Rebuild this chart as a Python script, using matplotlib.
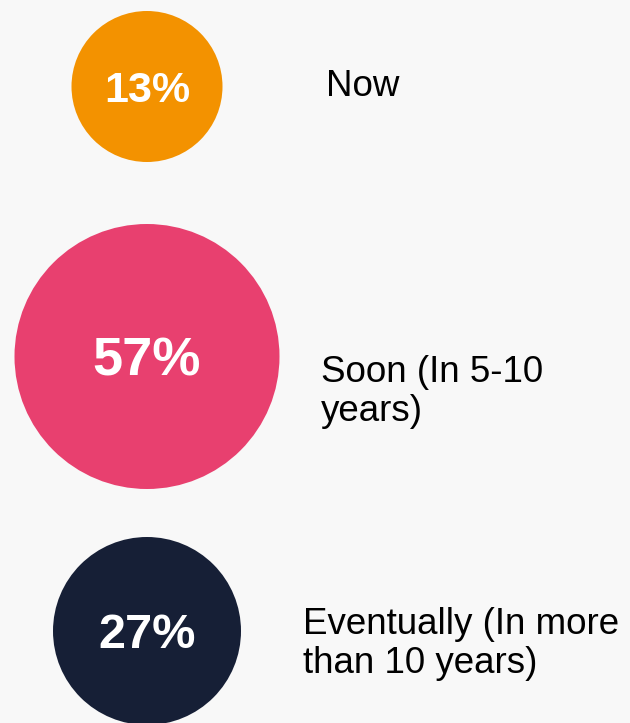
import matplotlib
matplotlib.use('Agg')
import matplotlib.pyplot as plt
from matplotlib.patches import Circle

plt.rcParams['font.family'] = ['Liberation Sans', 'DejaVu Sans']

# data
categories = ['Now', 'Soon (In 5-10\nyears)', 'Eventually (In more\nthan 10 years)']
values = [13, 57, 27]
colors = ['#F39200', '#E8406F', '#161F36']

# layout (pixels)
cx = 147
cy = [86.5, 356.5, 631]
radius = [75.5, 132.5, 94]
pct_size = [31, 39, 35]
label_x = [326, 321, 303]
label_y = [96, 382, 634]   # baseline of first line
line_gap = 39

fig = plt.figure(figsize=(6.3, 7.23), dpi=100)
fig.patch.set_facecolor('#F8F8F8')
ax = fig.add_axes([0, 0, 1, 1])
ax.set_xlim(0, 630)
ax.set_ylim(723, 0)
ax.set_aspect('equal')
ax.axis('off')

for i, v in enumerate(values):
    ax.add_patch(Circle((cx, cy[i]), radius[i], color=colors[i], lw=0))
    ax.text(cx, cy[i], '{0}%'.format(v), color='white', fontsize=pct_size[i],
            fontweight='bold', ha='center', va='center_baseline')
    for k, line in enumerate(categories[i].split('\n')):
        ax.text(label_x[i], label_y[i] + k*line_gap, line, color='black',
                fontsize=26.5, ha='left', va='baseline')

fig.savefig('out.png', dpi=100, facecolor=fig.get_facecolor())
